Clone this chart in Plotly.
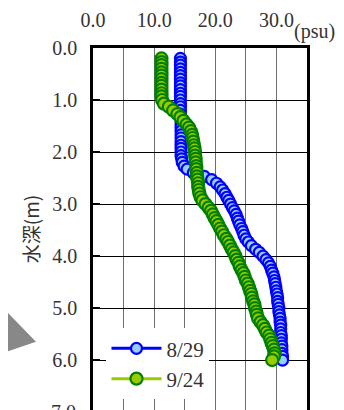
import plotly.graph_objects as go

depth = [0.20, 0.27, 0.33, 0.40, 0.47, 0.53, 0.60, 0.67, 0.73, 0.80, 0.87, 0.93,
         1.00, 1.07, 1.13, 1.20, 1.27, 1.33, 1.40, 1.47, 1.53, 1.60, 1.67, 1.73, 1.80, 1.87, 1.93,
         2.00, 2.07, 2.13, 2.20, 2.27, 2.33, 2.40, 2.47, 2.53, 2.60, 2.67, 2.73, 2.80, 2.87, 2.93,
         3.00, 3.07, 3.13, 3.20, 3.27, 3.33, 3.40, 3.47, 3.53, 3.60, 3.67, 3.73, 3.80, 3.87, 3.93,
         4.00, 4.07, 4.13, 4.20, 4.27, 4.33, 4.40, 4.47, 4.53, 4.60, 4.67, 4.73, 4.80, 4.87, 4.93,
         5.00, 5.07, 5.13, 5.20, 5.27, 5.33, 5.40, 5.47, 5.53, 5.60, 5.67, 5.73, 5.80, 5.87, 5.93,
         6.00]

sal_0829 = [14.3, 14.3, 14.3, 14.3, 14.3, 14.3, 14.3, 14.3, 14.3, 14.3, 14.3, 14.3,
            14.3, 14.3, 14.3, 14.3, 14.3, 14.4, 14.4, 14.4, 14.4, 14.4, 14.4, 14.4, 14.4, 14.4, 14.4,
            14.4, 14.4, 14.5, 14.6, 14.9, 15.4, 16.4, 18.2, 19.4, 20.2, 20.8, 21.2, 21.6, 21.9, 22.2,
            22.5, 22.8, 23.1, 23.4, 23.6, 23.8, 24.0, 24.3, 24.5, 24.7, 25.0, 25.4, 25.9, 26.6, 27.2,
            27.8, 28.3, 28.7, 29.0, 29.2, 29.4, 29.6, 29.7, 29.8, 29.9, 30.0, 30.1, 30.2, 30.2, 30.3,
            30.4, 30.4, 30.5, 30.6, 30.6, 30.7, 30.7, 30.7, 30.8, 30.8, 30.8, 30.9, 30.9, 30.9, 31.0,
            31.0]

sal_0924 = [11.2, 11.2, 11.2, 11.2, 11.2, 11.2, 11.2, 11.2, 11.2, 11.2, 11.2, 11.2,
            11.3, 11.6, 12.4, 13.1, 13.8, 14.3, 14.8, 15.3, 15.7, 16.0, 16.2, 16.3, 16.4, 16.5, 16.6,
            16.7, 16.7, 16.8, 16.8, 16.9, 16.9, 17.0, 17.0, 17.1, 17.2, 17.2, 17.3, 17.4, 17.6, 17.9,
            18.4, 18.9, 19.3, 19.6, 19.9, 20.2, 20.5, 20.8, 21.1, 21.4, 21.8, 22.1, 22.4, 22.7, 23.0,
            23.3, 23.5, 23.8, 24.0, 24.3, 24.6, 24.8, 25.0, 25.3, 25.5, 25.7, 25.9, 26.0, 26.2, 26.4,
            26.5, 26.7, 26.8, 27.0, 27.4, 27.8, 28.1, 28.4, 28.8, 29.0, 29.2, 29.4, 29.6, 29.7, 29.6,
            29.3]

x_ticks = [0, 10, 20, 30]
x_ticktext = ["0.0", "10.0", "20.0", "30.0"]
y_ticks = [0, 1, 2, 3, 4, 5, 6]
y_ticktext = ["0.0", "1.0", "2.0", "3.0", "4.0", "5.0", "6.0"]

SERIF = "Liberation Serif"
TXT = "#333333"

fig = go.Figure()
fig.add_trace(go.Scatter(
    x=sal_0829, y=depth, name="8/29", mode="lines+markers",
    line=dict(color="#0000ff", width=3),
    marker=dict(size=11, color="#99ccff", line=dict(color="#0000ff", width=2.2)),
))
fig.add_trace(go.Scatter(
    x=sal_0924, y=depth, name="9/24", mode="lines+markers",
    line=dict(color="#99cc00", width=3),
    marker=dict(size=12, color="#99cc00", line=dict(color="#008000", width=2.2)),
))

# page has an 8px body margin: plot area in page px spans x 93..307, y 48..410
fig.update_layout(
    width=336, height=402,
    margin=dict(l=85, r=37, t=40, b=0),
    paper_bgcolor="white", plot_bgcolor="white",
    font=dict(family=SERIF, size=19, color=TXT),
    showlegend=True,
    legend=dict(x=0.063, y=0.226, xanchor="left", yanchor="top",
                bgcolor="white", borderwidth=0, font=dict(size=21, family=SERIF, color=TXT),
                itemwidth=50, tracegroupgap=0),
    xaxis=dict(
        side="top", range=[0, 35], tickvals=x_ticks, ticktext=x_ticktext,
        tickfont=dict(family=SERIF, size=20, color=TXT),
        showgrid=True, gridcolor="#6e6e6e", gridwidth=1,
        minor=dict(tickvals=[5, 15, 25], showgrid=True, gridcolor="#6e6e6e", gridwidth=1),
        showline=True, linecolor="black", linewidth=2.5, mirror=False,
        ticks="", zeroline=False, ticklabelstandoff=10, automargin=False,
    ),
    yaxis=dict(
        range=[6.96, 0], tickvals=y_ticks, ticktext=y_ticktext,
        tickfont=dict(family=SERIF, size=20, color=TXT),
        showgrid=True, gridcolor="black", gridwidth=1,
        showline=True, linecolor="black", linewidth=2.5, mirror=True,
        ticks="inside", ticklen=7, tickwidth=2, tickcolor="black",
        zeroline=False, ticklabelstandoff=9, automargin=False,
        title=dict(text="水深(m)", font=dict(size=19, family="Noto Sans CJK JP", color=TXT), standoff=8),
    ),
    shapes=[dict(
        type="path", xref="paper", yref="paper",
        path="M -0.419,0.2809 L -0.2664,0.1887 L -0.4579,0.1500 L -0.4579,0.2224 Z",
        fillcolor="#888888", line=dict(width=0),
    )],
    annotations=[
        dict(text="(psu)", xref="paper", yref="paper", x=0.93, y=1.045,
             xanchor="left", yanchor="middle", showarrow=False,
             font=dict(size=20, family=SERIF, color=TXT)),
        dict(text="7.0", xref="paper", yref="paper", x=-0.07, y=-0.0055,
             xanchor="right", yanchor="middle", showarrow=False,
             font=dict(size=20, family=SERIF, color=TXT)),
    ],
)

fig.write_html("out.html")
